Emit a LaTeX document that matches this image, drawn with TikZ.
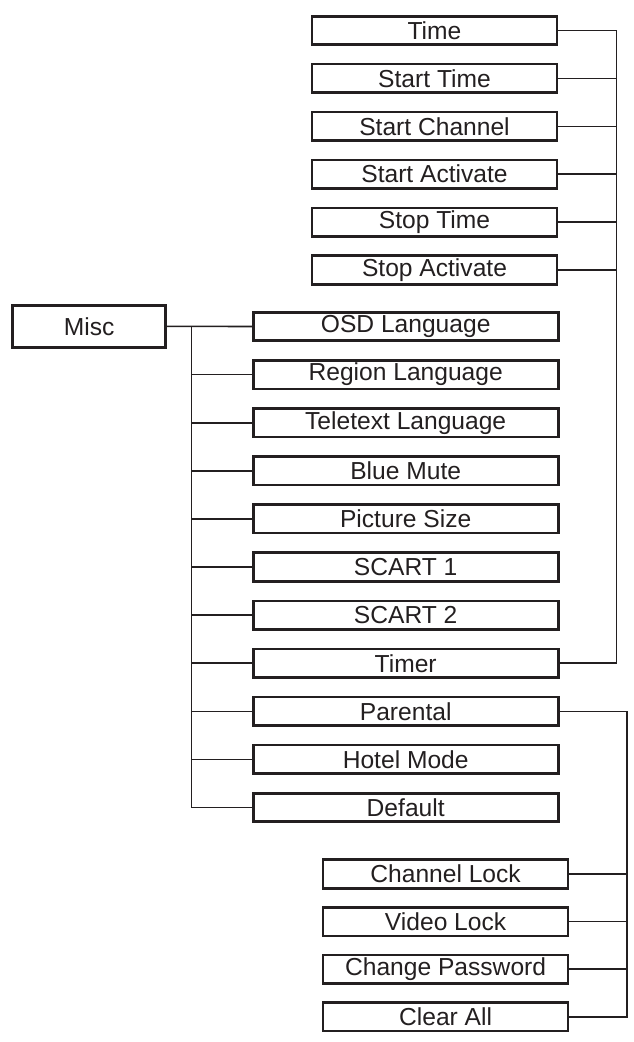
\documentclass[tikz,border=0pt]{standalone}
\usepackage{fontspec}
\setmainfont{Liberation Sans}
\usepackage{tikz}
\tikzset{
menubox/.style={draw={rgb, 255:red, 35; green, 31; blue, 32 }, line width=2.6pt, inner sep=0pt, minimum height=28.5, font=\fontsize{24.6}{28}\selectfont, text={rgb, 255:red, 35; green, 31; blue, 32 }},
mainbox/.style={menubox, minimum width=305},
subbox/.style={menubox, minimum width=245},
link/.style={draw={rgb, 255:red, 35; green, 31; blue, 32 }, line width=1.6pt}
}

\begin{document}
\begin{tikzpicture}[x=1pt,y=1pt,yscale=-1,xscale=1]
\useasboundingbox (0,0) rectangle (634,1042);

%Shape: Rectangle [Misc]
\node (misc) at (89.2,326.3) [menubox, minimum width=153, minimum height=42] {Misc};

%Shape: Rectangle [Timer items]
\node (time) at (434.5,30.5) [subbox] {Time};
\node (starttime) at (434.5,78.4) [subbox] {Start Time};
\node (startchannel) at (434.5,126.3) [subbox] {Start Channel};
\node (startactivate) at (434.5,174.2) [subbox] {Start Activate};
\node (stoptime) at (434.5,222.1) [subbox] {Stop Time};
\node (stopactivate) at (434.5,270) [subbox] {Stop Activate};

%Shape: Rectangle [Misc items]
\node (osd) at (405.7,326.5) [mainbox] {OSD Language};
\node (region) at (405.7,374.6) [mainbox] {Region Language};
\node (teletext) at (405.7,422.7) [mainbox] {Teletext Language};
\node (bluemute) at (405.7,470.8) [mainbox] {Blue Mute};
\node (picsize) at (405.7,518.9) [mainbox] {Picture Size};
\node (scartone) at (405.7,567) [mainbox] {SCART 1};
\node (scarttwo) at (405.7,615.1) [mainbox] {SCART 2};
\node (timer) at (405.7,663.2) [mainbox] {Timer};
\node (parental) at (405.7,711.3) [mainbox] {Parental};
\node (hotel) at (405.7,759.4) [mainbox] {Hotel Mode};
\node (default) at (405.7,807.5) [mainbox] {Default};

%Shape: Rectangle [Parental items]
\node (chlock) at (445.6,874) [subbox] {Channel Lock};
\node (vidlock) at (445.6,921.6) [subbox] {Video Lock};
\node (chpass) at (445.6,969.2) [subbox] {Change Password};
\node (clearall) at (445.6,1016.8) [subbox] {Clear All};

%Straight Lines [buses]
\coordinate (mbus) at (191.5,0);
\coordinate (tbus) at (616.5,0);
\coordinate (pbus) at (627,0);

%Straight Lines [Misc tree]
\draw [link] (misc.east) -- (osd.west);
\draw [link] (mbus |- osd.west) -- (mbus |- default.west) -- (default.west);
\draw [link] (mbus |- region.west) -- (region.west);
\draw [link] (mbus |- teletext.west) -- (teletext.west);
\draw [link] (mbus |- bluemute.west) -- (bluemute.west);
\draw [link] (mbus |- picsize.west) -- (picsize.west);
\draw [link] (mbus |- scartone.west) -- (scartone.west);
\draw [link] (mbus |- scarttwo.west) -- (scarttwo.west);
\draw [link] (mbus |- timer.west) -- (timer.west);
\draw [link] (mbus |- parental.west) -- (parental.west);
\draw [link] (mbus |- hotel.west) -- (hotel.west);

%Straight Lines [Timer tree]
\draw [link] (timer.east) -| (tbus |- time.east) -- (time.east);
\draw [link] (starttime.east) -- (tbus |- starttime.east);
\draw [link] (startchannel.east) -- (tbus |- startchannel.east);
\draw [link] (startactivate.east) -- (tbus |- startactivate.east);
\draw [link] (stoptime.east) -- (tbus |- stoptime.east);
\draw [link] (stopactivate.east) -- (tbus |- stopactivate.east);

%Straight Lines [Parental tree]
\draw [link] (parental.east) -| (pbus |- clearall.east) -- (clearall.east);
\draw [link] (chlock.east) -- (pbus |- chlock.east);
\draw [link] (vidlock.east) -- (pbus |- vidlock.east);
\draw [link] (chpass.east) -- (pbus |- chpass.east);
\end{tikzpicture}
\end{document}
